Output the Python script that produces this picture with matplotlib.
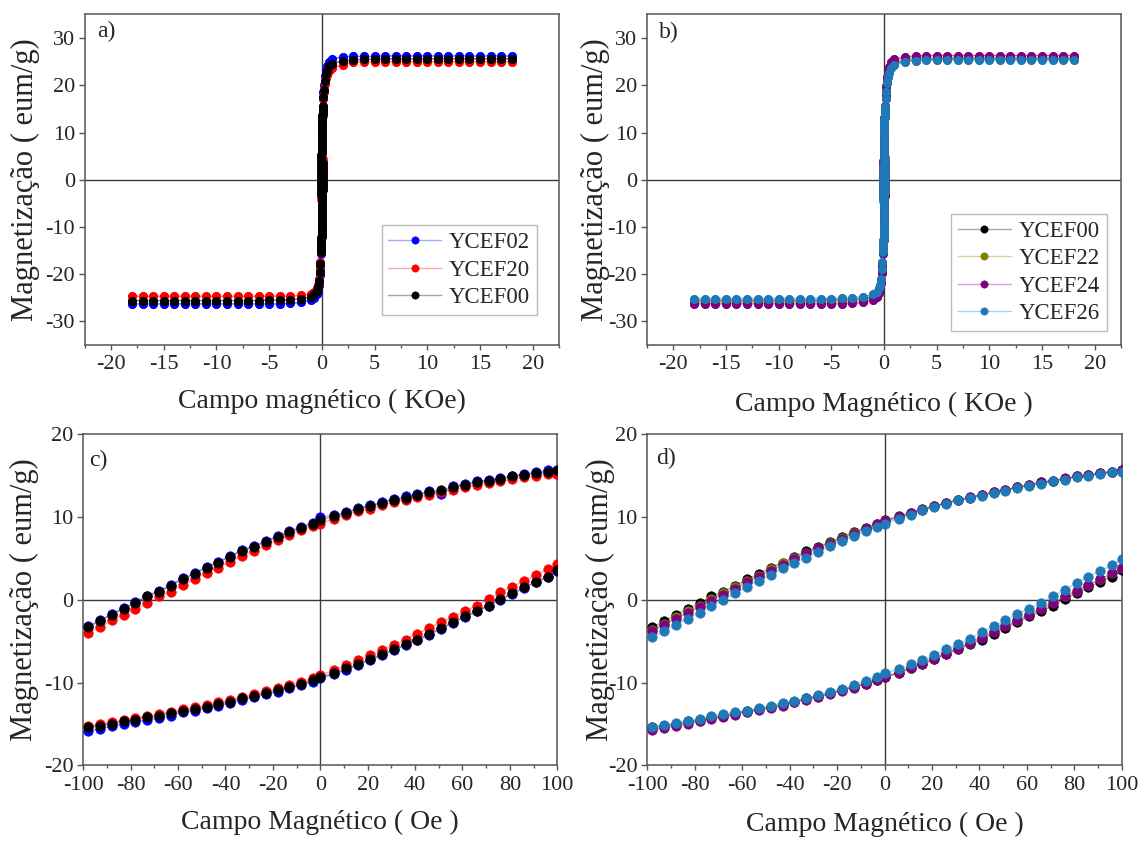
import numpy as np
import matplotlib.pyplot as plt
from matplotlib.ticker import MultipleLocator
from matplotlib.colors import to_rgba

plt.rcParams['font.family'] = ['Liberation Serif', 'DejaVu Serif']
plt.rcParams['axes.unicode_minus'] = False

# minor loop field points (Oe)
H_minor = [-98, -93, -88, -83, -78, -73, -68, -63, -58, -53, -48, -43, -38, -33, -28,
           -23, -18, -13, -8, -3, 0, 6, 11, 16, 21, 26, 31, 36, 41, 46, 51, 56, 61, 66,
           71, 76, 81, 86, 91, 96, 100]

# upper (descending) and lower (ascending) branches, emu/g
ycef00_up = [-3.3, -2.6, -1.8, -1.1, -0.4, 0.4, 1.0, 1.7, 2.5, 3.1, 3.9, 4.5, 5.2, 5.9, 6.4,
             7.0, 7.6, 8.2, 8.7, 9.2, 9.6, 10.1, 10.5, 11.0, 11.3, 11.7, 12.1, 12.3, 12.7,
             13.0, 13.3, 13.6, 13.9, 14.2, 14.4, 14.6, 14.9, 15.1, 15.3, 15.5, 15.7]
ycef00_low = [-15.4, -15.2, -15.0, -14.7, -14.5, -14.2, -14.0, -13.7, -13.4, -13.2, -12.9,
              -12.6, -12.3, -11.9, -11.6, -11.3, -10.9, -10.5, -10.2, -9.7, -9.3, -8.9,
              -8.3, -7.8, -7.2, -6.6, -6.0, -5.4, -4.8, -4.1, -3.4, -2.7, -2.0, -1.4, -0.7,
              0.1, 0.8, 1.5, 2.2, 2.8, 3.6]
ycef20_up = [-4.0, -3.3, -2.5, -1.8, -1.1, -0.4, 0.4, 1.0, 1.8, 2.5, 3.2, 3.9, 4.6, 5.3, 5.9,
             6.6, 7.2, 7.8, 8.4, 8.9, 9.2, 9.8, 10.3, 10.7, 11.0, 11.4, 11.8, 12.1, 12.4,
             12.7, 13.0, 13.3, 13.6, 13.9, 14.1, 14.3, 14.6, 14.8, 15.0, 15.2, 15.2]
ycef20_low = [-15.2, -15.0, -14.8, -14.5, -14.3, -14.0, -13.8, -13.5, -13.2, -13.0, -12.7,
              -12.4, -12.1, -11.7, -11.4, -11.0, -10.7, -10.3, -9.9, -9.5, -9.1, -8.5,
              -7.9, -7.3, -6.7, -6.1, -5.5, -4.8, -4.1, -3.4, -2.7, -2.1, -1.4, -0.7, 0.1,
              0.9, 1.6, 2.3, 3.0, 3.7, 4.3]
ycef02_up = [-3.2, -2.5, -1.7, -1.0, -0.3, 0.5, 1.1, 1.8, 2.6, 3.2, 4.0, 4.6, 5.3, 6.0, 6.5,
             7.1, 7.7, 8.3, 8.8, 9.3, 10.0, 10.2, 10.6, 11.1, 11.4, 11.8, 12.2, 12.5, 12.8,
             13.1, 12.8, 13.7, 14.0, 14.3, 14.5, 14.7, 15.0, 15.2, 15.4, 15.7, 15.2]
ycef02_low = [-15.8, -15.6, -15.3, -15.0, -14.8, -14.5, -14.3, -14.0, -13.6, -13.4, -13.1,
              -12.8, -12.5, -12.1, -11.8, -11.4, -11.1, -10.7, -10.3, -9.9, -9.5, -9.0,
              -8.5, -7.9, -7.3, -6.7, -6.1, -5.5, -4.9, -4.2, -3.5, -2.8, -2.1, -1.4, -0.7,
              0.0, 0.7, 1.4, 2.1, 2.8, 3.5]
ycef22_up = [-3.6, -2.9, -2.1, -1.4, -0.7, 0.1, 0.8, 1.5, 2.3, 2.9, 3.7, 4.4, 5.0, 5.7, 6.3,
             6.9, 7.5, 8.1, 8.6, 9.1, 9.5, 10.0, 10.5, 10.9, 11.3, 11.7, 12.0, 12.4, 12.7,
             13.0, 13.3, 13.6, 13.9, 14.1, 14.4, 14.6, 14.9, 15.1, 15.3, 15.5, 15.6]
ycef22_low = [-15.6, -15.3, -15.1, -14.8, -14.6, -14.3, -14.1, -13.8, -13.5, -13.2, -13.0,
              -12.7, -12.3, -12.0, -11.7, -11.3, -10.9, -10.5, -10.1, -9.7, -9.2, -8.8,
              -8.2, -7.6, -7.0, -6.4, -5.8, -5.2, -4.5, -3.8, -3.1, -2.4, -1.7, -1.0, -0.3,
              0.4, 1.1, 1.8, 2.5, 3.2, 3.8]
ycef24_up = [-3.8, -3.1, -2.3, -1.6, -0.9, -0.1, 0.6, 1.3, 2.1, 2.8, 3.5, 4.2, 4.9, 5.6, 6.2,
             6.8, 7.4, 8.0, 8.6, 9.1, 9.5, 10.0, 10.5, 10.9, 11.3, 11.7, 12.1, 12.4, 12.7,
             13.0, 13.3, 13.6, 13.9, 14.2, 14.4, 14.7, 14.9, 15.1, 15.3, 15.5, 15.7]
ycef24_low = [-15.7, -15.5, -15.2, -15.0, -14.7, -14.4, -14.2, -13.9, -13.6, -13.3, -13.1,
              -12.8, -12.4, -12.1, -11.8, -11.4, -11.0, -10.6, -10.2, -9.7, -9.3, -8.8,
              -8.2, -7.7, -7.1, -6.5, -5.9, -5.2, -4.6, -3.9, -3.2, -2.5, -1.8, -1.1, -0.4,
              0.4, 1.1, 1.8, 2.5, 3.2, 3.9]
ycef26_up = [-4.5, -3.8, -3.0, -2.3, -1.6, -0.8, 0.0, 0.8, 1.6, 2.3, 3.0, 3.8, 4.5, 5.1, 5.8,
             6.5, 7.1, 7.7, 8.3, 8.8, 9.2, 9.8, 10.3, 10.8, 11.2, 11.6, 12.0, 12.3, 12.6,
             12.9, 13.2, 13.5, 13.8, 14.0, 14.3, 14.5, 14.8, 15.0, 15.2, 15.4, 15.5]
ycef26_low = [-15.4, -15.1, -14.9, -14.6, -14.4, -14.1, -13.8, -13.6, -13.4, -13.1, -12.8,
              -12.5, -12.2, -11.9, -11.5, -11.1, -10.8, -10.3, -9.8, -9.3, -8.9, -8.4,
              -7.8, -7.3, -6.7, -6.0, -5.4, -4.7, -3.9, -3.2, -2.5, -1.7, -1.1, -0.4, 0.4,
              1.2, 2.0, 2.8, 3.5, 4.2, 4.9]

# major loop field points (KOe), |H| >= 0.15
H_major = [0.15, 0.2, 0.3, 0.4, 0.5, 0.7, 1, 2, 3, 4, 5, 6, 7, 8, 9, 10, 11, 12, 13, 14,
           15, 16, 17, 18]
ycef02_pos = [18.5, 20.0, 22.0, 23.2, 24.0, 25.0, 25.6, 26.0, 26.1, 26.1, 26.1, 26.2, 26.2,
              26.2, 26.2, 26.2, 26.2, 26.2, 26.2, 26.2, 26.2, 26.2, 26.2, 26.2]
ycef02_neg = [-18.5, -20.2, -22.3, -23.5, -24.3, -25.0, -25.4, -26.0, -26.2, -26.3, -26.3,
              -26.3, -26.3, -26.3, -26.3, -26.3, -26.3, -26.3, -26.3, -26.3, -26.3, -26.3,
              -26.3, -26.3]
ycef20_pos = [17.0, 18.5, 20.3, 21.5, 22.2, 23.0, 23.6, 24.4, 24.9, 25.0, 25.0, 25.0, 25.0,
              25.0, 25.0, 25.0, 25.0, 25.0, 25.0, 25.0, 25.0, 25.0, 25.0, 25.0]
ycef20_neg = [-17.5, -19.0, -21.0, -22.2, -23.0, -23.8, -24.2, -24.5, -24.7, -24.7, -24.7,
              -24.7, -24.7, -24.7, -24.7, -24.7, -24.7, -24.7, -24.7, -24.7, -24.7, -24.7,
              -24.7, -24.7]
ycef00_pos = [17.5, 19.0, 21.0, 22.3, 23.1, 24.0, 24.6, 25.2, 25.4, 25.5, 25.5, 25.6, 25.6,
              25.6, 25.6, 25.6, 25.6, 25.6, 25.6, 25.6, 25.6, 25.6, 25.6, 25.6]
ycef00_neg = [-17.8, -19.5, -21.5, -22.7, -23.5, -24.3, -24.8, -25.2, -25.4, -25.5, -25.5,
              -25.6, -25.6, -25.6, -25.6, -25.6, -25.6, -25.6, -25.6, -25.6, -25.6, -25.6,
              -25.6, -25.6]
ycef22_pos = [17.8, 19.4, 21.4, 22.7, 23.5, 24.4, 25.0, 25.6, 25.8, 25.9, 25.9, 25.9, 25.9,
              25.9, 25.9, 25.9, 25.9, 25.9, 25.9, 25.9, 25.9, 25.9, 25.9, 25.9]
ycef22_neg = [-17.8, -19.4, -21.4, -22.7, -23.5, -24.4, -25.0, -25.6, -25.8, -25.9, -25.9,
              -25.9, -25.9, -25.9, -25.9, -25.9, -25.9, -25.9, -25.9, -25.9, -25.9, -25.9,
              -25.9, -25.9]
ycef24_pos = [18.2, 19.8, 21.8, 23.0, 23.9, 24.9, 25.5, 26.0, 26.2, 26.3, 26.3, 26.3, 26.3,
              26.3, 26.3, 26.3, 26.3, 26.3, 26.3, 26.3, 26.3, 26.3, 26.3, 26.3]
ycef24_neg = [-18.2, -19.8, -21.8, -23.0, -23.9, -24.9, -25.5, -26.0, -26.2, -26.3, -26.3,
              -26.3, -26.3, -26.3, -26.3, -26.3, -26.3, -26.3, -26.3, -26.3, -26.3, -26.3,
              -26.3, -26.3]
ycef26_pos = [17.0, 18.6, 20.5, 21.8, 22.6, 23.6, 24.3, 25.0, 25.2, 25.3, 25.3, 25.3, 25.3,
              25.3, 25.3, 25.3, 25.3, 25.3, 25.3, 25.3, 25.3, 25.3, 25.3, 25.3]
ycef26_neg = [-17.5, -19.0, -21.0, -22.3, -23.0, -23.8, -24.3, -24.8, -25.0, -25.1, -25.2,
              -25.2, -25.2, -25.2, -25.2, -25.2, -25.2, -25.2, -25.2, -25.2, -25.2, -25.2,
              -25.2, -25.2]

samples = {
    'YCEF02': ('#0000FF', ycef02_pos, ycef02_neg, ycef02_up, ycef02_low),
    'YCEF20': ('#FF0000', ycef20_pos, ycef20_neg, ycef20_up, ycef20_low),
    'YCEF00': ('#000000', ycef00_pos, ycef00_neg, ycef00_up, ycef00_low),
    'YCEF22': ('#808000', ycef22_pos, ycef22_neg, ycef22_up, ycef22_low),
    'YCEF24': ('#800080', ycef24_pos, ycef24_neg, ycef24_up, ycef24_low),
    'YCEF26': ('#1F78B8', ycef26_pos, ycef26_neg, ycef26_up, ycef26_low),
}
order_a = ['YCEF02', 'YCEF20', 'YCEF00']
order_b = ['YCEF00', 'YCEF22', 'YCEF24', 'YCEF26']

spine_col = '#555555'
text_col = '#262626'
zero_col = '#3a3a3a'


def full_loop(name):
    c, pos, neg, up, low = samples[name]
    h = np.array(H_major)
    hm = np.array(H_minor) / 1000.0
    h_desc = np.concatenate([h[::-1], hm[::-1], -h])
    m_desc = np.concatenate([pos[::-1], up[::-1], neg])
    h_asc = np.concatenate([-h[::-1], hm, h])
    m_asc = np.concatenate([neg[::-1], low, pos])
    return (h_desc, m_desc), (h_asc, m_asc)


def style(ax, xlim, ylim, xmaj, ymaj):
    ax.set_xlim(xlim)
    ax.set_ylim(ylim)
    ax.xaxis.set_major_locator(MultipleLocator(xmaj))
    ax.xaxis.set_minor_locator(MultipleLocator(xmaj / 2))
    ax.yaxis.set_major_locator(MultipleLocator(ymaj))
    ax.tick_params(which='both', direction='out', color=spine_col, labelcolor=text_col,
                   labelsize=16, width=1.0)
    ax.tick_params(axis='x', which='major', length=3.5, pad=4)
    ax.tick_params(axis='x', which='minor', length=2.5)
    ax.tick_params(axis='y', which='major', length=4.5, pad=2.5)
    for sp in ax.spines.values():
        sp.set_color(spine_col)
        sp.set_linewidth(1.1)
    ax.axhline(0, color=zero_col, lw=1.0, zorder=1)
    ax.axvline(0, color=zero_col, lw=1.0, zorder=1)


def draw(ax, name, h, m, ms, label=None):
    c = samples[name][0]
    ax.plot(h, m, '-o', color=to_rgba(c, 0.35), lw=1.0, ms=ms, mfc=c, mec=c,
            mew=0.5, label=label, zorder=3)


fig = plt.figure(figsize=(11.42, 8.41), dpi=100)
ax_a = fig.add_axes([0.0742, 0.5898, 0.4153, 0.393])
ax_b = fig.add_axes([0.5665, 0.5898, 0.4151, 0.393])
ax_c = fig.add_axes([0.0729, 0.0900, 0.4151, 0.3936])
ax_d = fig.add_axes([0.5669, 0.0900, 0.4153, 0.3936])

# a) and b): full loops in KOe
for ax, order in [(ax_a, order_a), (ax_b, order_b)]:
    style(ax, (-22.5, 22.5), (-35, 35), 5, 10)
    for name in order:
        (hd, md), (ha, ma) = full_loop(name)
        draw(ax, name, hd, md, 5.8, label=name)
        draw(ax, name, ha, ma, 5.8)

# c) and d): low-field region in Oe
order_c = ['YCEF02', 'YCEF20', 'YCEF00']
order_d = ['YCEF00', 'YCEF22', 'YCEF24', 'YCEF26']
for ax, order in [(ax_c, order_c), (ax_d, order_d)]:
    style(ax, (-100, 100), (-20, 20), 20, 10)
    for name in order:
        draw(ax, name, H_minor, samples[name][3], 6.8)
        draw(ax, name, H_minor, samples[name][4], 6.8)

leg_kw = dict(fontsize=16.5, handlelength=2.3, handletextpad=0.35, labelspacing=0.28,
              borderpad=0.3, borderaxespad=0, fancybox=False, edgecolor='#bbbbbb',
              framealpha=1.0, loc='lower right', markerscale=0.9)
leg_a = ax_a.legend(bbox_to_anchor=(0.954, 0.091), **leg_kw)
leg_b = ax_b.legend(bbox_to_anchor=(0.970, 0.042), **leg_kw)
for leg in (leg_a, leg_b):
    leg.get_frame().set_linewidth(1.0)
    for t in leg.get_texts():
        t.set_color(text_col)

xlabels = ['Campo magnético ( KOe)', 'Campo Magnético ( KOe )',
           'Campo Magnético ( Oe )', 'Campo Magnético ( Oe )']
ylabel = 'Magnetização ( eum/g)'
ylab_x = [-0.126, -0.109, -0.123, -0.098]
xlab_y = [-0.172, -0.18, -0.174, -0.18]
letters = ['a)', 'b)', 'c)', 'd)']
letter_pos = [(0.027, 0.948), (0.026, 0.946), (0.012, 0.922), (0.018, 0.928)]

for ax, xl, yx, xy, lt, lp in zip([ax_a, ax_b, ax_c, ax_d], xlabels, ylab_x, xlab_y,
                                  letters, letter_pos):
    ax.set_xlabel(xl, fontsize=20, color=text_col)
    ax.set_ylabel(ylabel, fontsize=22, color=text_col)
    ax.xaxis.set_label_coords(0.5, xy)
    ax.xaxis.label.set_va('center')
    ax.yaxis.set_label_coords(yx, 0.5)
    ax.yaxis.label.set_va('center')
    ax.text(lp[0], lp[1], lt, transform=ax.transAxes, fontsize=17, color=text_col,
            ha='left', va='center')

fig.savefig('out.png', dpi=100)
